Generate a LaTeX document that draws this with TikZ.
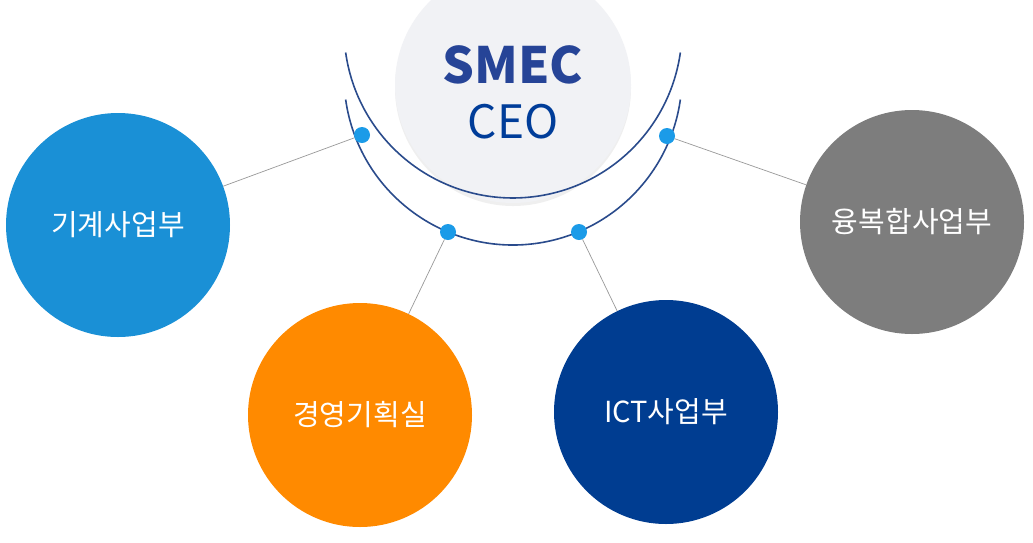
\documentclass[tikz,border=0pt]{standalone}
\usepackage{fontspec}
\setmainfont{Noto Sans CJK KR}
\newfontfamily\kofont{Noto Sans CJK KR}
\usetikzlibrary{shadows}
\definecolor{dotblue}{HTML}{1B9BE8}
\definecolor{arcblue}{HTML}{2A4B8C}
\definecolor{mechblue}{HTML}{1A90D6}
\definecolor{planorange}{HTML}{FF8A00}
\definecolor{ictblue}{HTML}{003D91}
\definecolor{fusiongray}{HTML}{7D7D7D}
\definecolor{ceogray}{HTML}{F1F2F5}
\tikzset{
  dept/.style={circle,minimum size=224pt,inner sep=0pt,text=white,
    font=\kofont\fontsize{29}{32}\selectfont},
  hub/.style={circle,fill=dotblue,minimum size=16pt,inner sep=0pt},
  link/.style={draw=gray!80,line width=0.7pt}
}
\begin{document}
\begin{tikzpicture}[x=1pt,y=-1pt]
\useasboundingbox[fill=white] (0,0) rectangle (1033,542);
\def\ArcR{169}
% ceo
\node[circle,fill=ceogray,minimum size=236pt,inner sep=0pt,
  drop shadow={shadow xshift=0pt,shadow yshift=-3pt,opacity=.12}] (ceo) at (513,85) {};
\node[font=\bfseries\fontsize{50}{50}\selectfont,text=arcblue!90!blue] (smec) at (513,65) {SMEC};
\node[font=\fontsize{46}{46}\selectfont,text=blue!60!cyan!60!black] (ceotxt) at (513,122) {CEO};
% arc
\draw[arcblue,line width=1.6pt] (513,76) ++(188:\ArcR) arc[start angle=188,end angle=352,radius=\ArcR,y radius=-\ArcR];
\draw[arcblue,line width=1.6pt] (513,76) ++(-188:\ArcR) arc[start angle=-188,end angle=-352,radius=\ArcR];
% departments
\node[dept,fill=mechblue] (mech) at (118,225) {기계사업부};
\node[dept,fill=planorange] (plan) at (360,415) {경영기획실};
\node[dept,fill=ictblue] (ict) at (666,412) {ICT사업부};
\node[dept,fill=fusiongray] (fusion) at (912,222) {융복합사업부};
% hubs
\node[hub] (h1) at (362,135) {};
\node[hub] (h2) at (448,232) {};
\node[hub] (h3) at (579,232) {};
\node[hub] (h4) at (667,136) {};
\begin{scope}[on background layer/.try]
\end{scope}
\draw[link] (h1) -- (mech);
\draw[link] (h2) -- (plan);
\draw[link] (h3) -- (ict);
\draw[link] (h4) -- (fusion);
\end{tikzpicture}
\end{document}
